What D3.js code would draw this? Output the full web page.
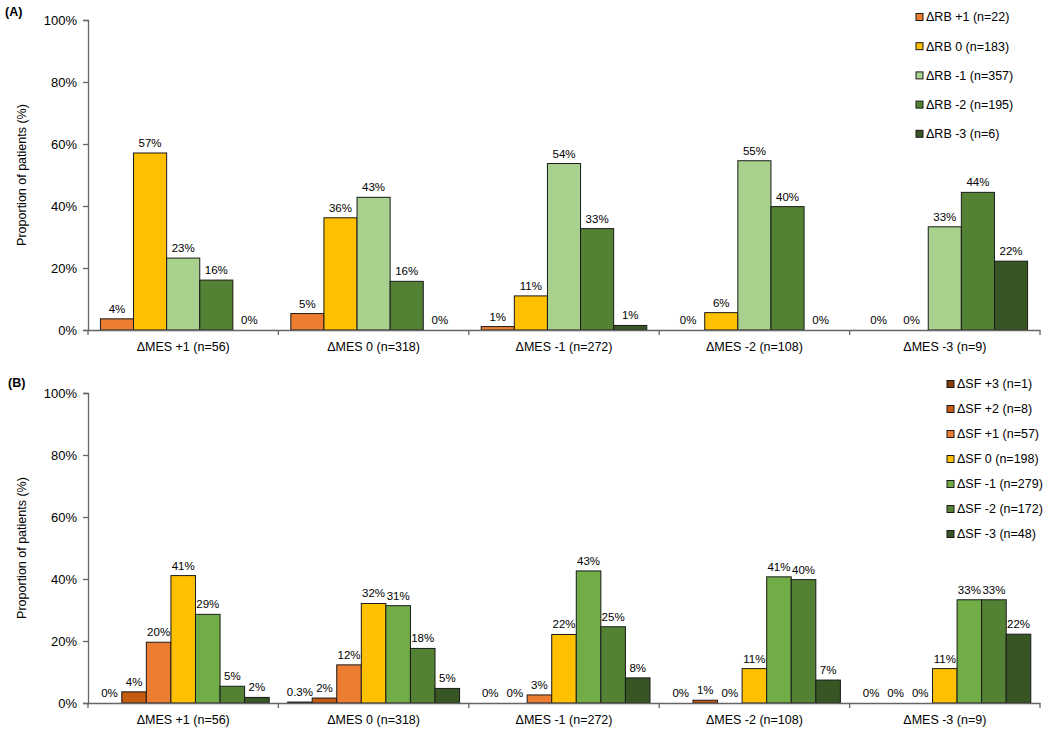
<!DOCTYPE html>
<html><head><meta charset="utf-8">
<script src="https://cdn.jsdelivr.net/npm/d3@7"></script>
<style>body{margin:0;background:#fff}svg{display:block;font-family:"Liberation Sans",Arial,sans-serif}</style>
</head><body><svg id="c" width="1050" height="730"></svg>
<script>
const categories = ["ΔMES +1 (n=56)", "ΔMES 0 (n=318)", "ΔMES -1 (n=272)", "ΔMES -2 (n=108)", "ΔMES -3 (n=9)"];
const yTicks = [0, 20, 40, 60, 80, 100];

// Panel A: change in rectal bleeding (RB)
const seriesA = ["ΔRB +1 (n=22)", "ΔRB 0 (n=183)", "ΔRB -1 (n=357)", "ΔRB -2 (n=195)", "ΔRB -3 (n=6)"];
const colorsA = ["#ED7D31", "#FFC000", "#A9D18E", "#548235", "#375623"];
const rbPlus1 = [3.6, 5.3, 1.1, 0, 0];
const rb0     = [57.1, 36.2, 11.0, 5.6, 0];
const rbMin1  = [23.2, 42.8, 53.7, 54.6, 33.3];
const rbMin2  = [16.1, 15.7, 32.7, 39.8, 44.4];
const rbMin3  = [0, 0, 1.47, 0, 22.2];

// Panel B: change in stool frequency (SF)
const seriesB = ["ΔSF +3 (n=1)", "ΔSF +2 (n=8)", "ΔSF +1 (n=57)", "ΔSF 0 (n=198)", "ΔSF -1 (n=279)", "ΔSF -2 (n=172)", "ΔSF -3 (n=48)"];
const colorsB = ["#843C0C", "#C55A11", "#ED7D31", "#FFC000", "#70AD47", "#548235", "#375623"];
const sfPlus3 = [0, 0.3, 0, 0, 0];
const sfPlus2 = [3.6, 1.6, 0, 0.9, 0];
const sfPlus1 = [19.6, 12.3, 2.6, 0, 0];
const sf0     = [41.1, 32.1, 22.1, 11.1, 11.1];
const sfMin1  = [28.6, 31.4, 42.6, 40.7, 33.3];
const sfMin2  = [5.4, 17.6, 24.6, 39.8, 33.3];
const sfMin3  = [1.8, 4.7, 8.1, 7.4, 22.2];

const svg = d3.select("#c");
const fmt = v => (v > 0 && v < 0.5) ? v.toFixed(1) + "%" : Math.round(v) + "%";

function panel(cfg) {
  const {top, bottom, left, right, series, colors, values, tag, tagY, legendX, legendY, legendStep} = cfg;
  const g = svg.append("g");
  const y = d3.scaleLinear().domain([0, 100]).range([bottom, top]);
  const x0 = d3.scaleBand().domain(categories).range([left, right]).padding(0);
  const n = series.length;
  const bw = x0.bandwidth() / (n + 0.75);
  const x1 = d3.scaleBand().domain(series).range([0, bw * n]);
  const pad = bw * 0.375;

  // y axis
  const ya = g.append("g").attr("transform", `translate(${left},0)`)
    .call(d3.axisLeft(y).tickValues(yTicks).tickFormat(d => d + "%").tickSize(5).tickPadding(6));
  ya.select(".domain").attr("stroke", "#666").attr("stroke-width", 1.3);
  ya.selectAll(".tick line").attr("stroke", "#666").attr("stroke-width", 1.3);
  ya.selectAll("text").attr("font-size", 13).attr("fill", "#000").attr("font-family", "Liberation Sans, Arial");

  // bars
  categories.forEach((c, ci) => {
    series.forEach((s, si) => {
      const v = values[si][ci];
      const bx = x0(c) + pad + x1(s);
      if (v > 0) {
        g.append("rect").attr("x", bx).attr("y", y(v)).attr("width", x1.bandwidth())
          .attr("height", y(0) - y(v)).attr("fill", colors[si]).attr("stroke", "#1a1a1a").attr("stroke-width", 1);
      }
      g.append("text").attr("x", bx + x1.bandwidth() / 2).attr("y", y(v) - 6)
        .attr("text-anchor", "middle").attr("font-size", 11.5).attr("fill", "#000").text(fmt(v));
    });
  });

  // x axis
  const xa = g.append("g").attr("transform", `translate(0,${bottom})`)
    .call(d3.axisBottom(x0).tickSize(0).tickPadding(12));
  xa.select(".domain").attr("stroke", "#666").attr("stroke-width", 1.3);
  xa.selectAll("text").attr("font-size", 12.5).attr("fill", "#000").attr("font-family", "Liberation Sans, Arial");
  const bounds = categories.map(c => x0(c)).concat([right]);
  g.selectAll(".xt").data(bounds).enter().append("line")
    .attr("x1", d => d).attr("x2", d => d).attr("y1", bottom).attr("y2", bottom + 5)
    .attr("stroke", "#666").attr("stroke-width", 1.3);

  // y title
  g.append("text").attr("transform", `translate(22,${(top + bottom) / 2}) rotate(-90)`)
    .attr("text-anchor", "middle").attr("dy", "0.35em").attr("font-size", 12.5).text("Proportion of patients (%)");
  // panel tag
  g.append("text").attr("x", cfg.tagX).attr("y", tagY).attr("font-size", 12.5).attr("font-weight", "bold").text(tag);

  // legend
  series.forEach((s, si) => {
    const ly = legendY + si * legendStep;
    g.append("rect").attr("x", legendX).attr("y", ly - 3.5).attr("width", 7).attr("height", 7)
      .attr("fill", colors[si]).attr("stroke", "#1a1a1a").attr("stroke-width", 1);
    g.append("text").attr("x", legendX + 10).attr("y", ly).attr("dy", "0.35em").attr("font-size", 12.5).text(s);
  });
}

panel({top: 20, bottom: 330, left: 88, right: 1040, series: seriesA, colors: colorsA,
  values: [rbPlus1, rb0, rbMin1, rbMin2, rbMin3], tag: "(A)", tagX: 5, tagY: 16,
  legendX: 916, legendY: 17, legendStep: 29.2});
panel({top: 393, bottom: 703, left: 88, right: 1040, series: seriesB, colors: colorsB,
  values: [sfPlus3, sfPlus2, sfPlus1, sf0, sfMin1, sfMin2, sfMin3], tag: "(B)", tagX: 8, tagY: 387,
  legendX: 947, legendY: 384, legendStep: 25});
</script></body></html>
